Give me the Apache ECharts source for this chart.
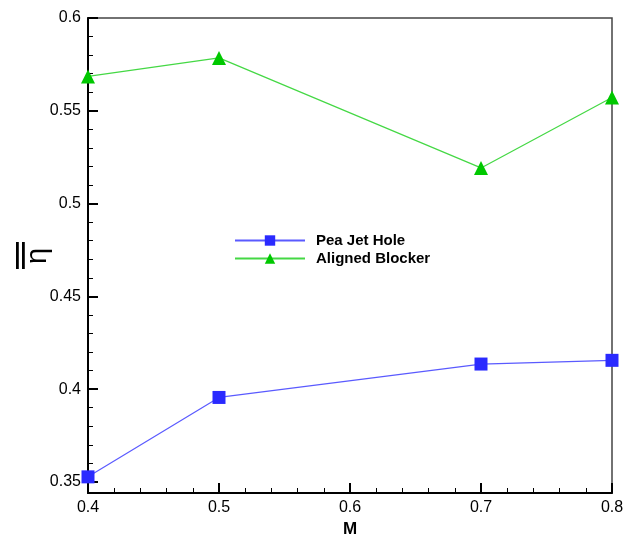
<!DOCTYPE html>
<html><head><meta charset="utf-8">
<script src="https://cdn.jsdelivr.net/npm/echarts@6/dist/echarts.min.js"></script>
<style>html,body{margin:0;padding:0;background:#fff}#c{width:634px;height:536px}</style>
</head><body><div id="c"></div>
<script>
const machNumbers = [0.4, 0.5, 0.7, 0.8];
const peaJetHole = [0.3527, 0.3955, 0.4135, 0.4155];
const alignedBlocker = [0.5685, 0.5785, 0.5192, 0.5572];
const seriesNames = ['Pea Jet Hole', 'Aligned Blocker'];
const yMajorTicks = [0.35, 0.4, 0.45, 0.5, 0.55, 0.6];
const yMinorTicks = [0.36, 0.37, 0.38, 0.39, 0.41, 0.42, 0.43, 0.44, 0.46, 0.47, 0.48, 0.49,
                     0.51, 0.52, 0.53, 0.54, 0.56, 0.57, 0.58, 0.59];
const xAxisTitle = 'M';
const yAxisSymbol = 'η';

const font = '"Liberation Sans", Arial, sans-serif';
const yMin = 0.344, yMax = 0.6;
const chart = echarts.init(document.getElementById('c'));
chart.setOption({
  animation: false,
  backgroundColor: '#fff',
  grid: { left: 88, top: 18, right: 22, bottom: 43, containLabel: false, outerBoundsMode: 'none',
          show: true, borderColor: '#444', borderWidth: 1.5, backgroundColor: 'transparent' },
  legend: {
    orient: 'vertical', left: 229, top: 228, itemWidth: 70, itemHeight: 13, itemGap: 3,
    textStyle: { fontFamily: font, fontWeight: 'bold', fontSize: 15, color: '#000', padding: [0, 0, 0, 6] },
    data: seriesNames
  },
  xAxis: {
    type: 'value', min: 0.4, max: 0.8, interval: 0.1,
    name: xAxisTitle, nameLocation: 'middle', nameGap: 23,
    nameTextStyle: { fontFamily: font, fontWeight: 'bold', fontSize: 17, color: '#000' },
    axisLine: { lineStyle: { color: '#000', width: 2 } },
    axisTick: { inside: true, length: 10, lineStyle: { color: '#000', width: 2 } },
    minorTick: { show: true, splitNumber: 5, length: 5, lineStyle: { color: '#000', width: 1 } },
    splitLine: { show: false },
    axisLabel: { fontFamily: font, fontSize: 16, color: '#000', margin: 7 }
  },
  yAxis: [{
    type: 'value', min: yMin, max: yMax,
    axisLine: { onZero: false, lineStyle: { color: '#000', width: 2 } },
    axisTick: { inside: true, length: 10, customValues: yMajorTicks, lineStyle: { color: '#000', width: 2 } },
    splitLine: { show: false },
    axisLabel: { fontFamily: font, fontSize: 16, color: '#000', margin: 7, customValues: yMajorTicks }
  }, {
    type: 'value', min: yMin, max: yMax, position: 'left',
    axisLine: { show: false },
    axisTick: { inside: true, length: 5, customValues: yMinorTicks, lineStyle: { color: '#000', width: 1 } },
    splitLine: { show: false },
    axisLabel: { show: false }
  }],
  graphic: [{
    type: 'group', x: 31, y: 256, rotation: Math.PI / 2,
    children: [
      { type: 'text', style: { text: yAxisSymbol, fontFamily: font, fontSize: 29, fill: '#000', align: 'center', verticalAlign: 'middle' }, x: 0, y: 7 },
      { type: 'rect', shape: { x: -13, y: -15, width: 27, height: 2.8 }, style: { fill: '#000' } },
      { type: 'rect', shape: { x: -13, y: -9, width: 27, height: 2.8 }, style: { fill: '#000' } }
    ]
  }],
  series: [
    { name: seriesNames[0], type: 'line', clip: false, yAxisIndex: 0, data: machNumbers.map((m, i) => [m, peaJetHole[i]]),
      symbol: 'rect', symbolSize: 13, itemStyle: { color: '#2a2aff' }, lineStyle: { color: '#5a5aff', width: 1.2 } },
    { name: seriesNames[1], type: 'line', clip: false, yAxisIndex: 0, data: machNumbers.map((m, i) => [m, alignedBlocker[i]]),
      symbol: 'triangle', symbolSize: 14, itemStyle: { color: '#00c800' }, lineStyle: { color: '#44d844', width: 1.2 } }
  ]
});
</script></body></html>
